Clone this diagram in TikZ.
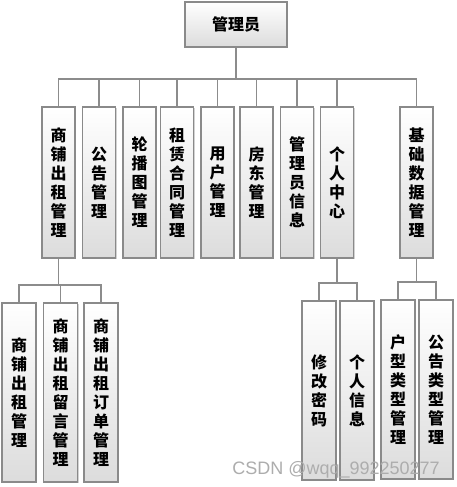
\documentclass[tikz,border=0pt]{standalone}
\usepackage{fontspec}
\newfontfamily\cjk{Noto Sans CJK SC}
\newfontfamily\wm{Liberation Sans}
\usetikzlibrary{shadows}
\definecolor{boxline}{HTML}{8A8A8A}
\definecolor{conncol}{HTML}{8C8C8C}
\definecolor{boxbot}{HTML}{DCDCDC}
\begin{document}
\begin{tikzpicture}[x=1pt,y=-1pt,
  box/.style={draw=boxline, line width=1.2pt, top color=white, bottom color=boxbot,
    drop shadow={shadow xshift=1.2pt, shadow yshift=-1.2pt, fill=black!35},
    inner sep=0pt, align=center, font=\cjk\bfseries\fontsize{16}{19}\selectfont},
  conn/.style={draw=conncol, line width=1.4pt}]
\useasboundingbox[fill=white] (0,0) rectangle (457,487);
% top
\node[box, minimum width=102pt, minimum height=45pt] (top) at (236,24.5) {管理员};
% level 2
\tikzset{l2/.style={box, minimum width=33pt, minimum height=151pt}}
\node[l2] (b1) at (58.5,182.5) {商\\铺\\出\\租\\管\\理};
\node[l2] (b2) at (99,182.5) {公\\告\\管\\理};
\node[l2] (b3) at (139.5,182.5) {轮\\播\\图\\管\\理};
\node[l2] (b4) at (177,182.5) {租\\赁\\合\\同\\管\\理};
\node[l2] (b5) at (217.5,182.5) {用\\户\\管\\理};
\node[l2] (b6) at (256.5,182.5) {房\\东\\管\\理};
\node[l2] (b7) at (297,182.5) {管\\理\\员\\信\\息};
\node[l2] (b8) at (337,182.5) {个\\人\\中\\心};
\node[l2] (b9) at (416.5,182.5) {基\\础\\数\\据\\管\\理};
% level 3
\tikzset{l3/.style={box, minimum width=34pt, minimum height=179pt}}
\node[l3] (c1) at (19,392.5) {商\\铺\\出\\租\\管\\理};
\node[l3] (c2) at (60.5,392.5) {商\\铺\\出\\租\\留\\言\\管\\理};
\node[l3] (c3) at (101,392.5) {商\\铺\\出\\租\\订\\单\\管\\理};
\node[l3] (d1) at (319,390.5) {修\\改\\密\\码};
\node[l3] (d2) at (357,390.5) {个\\人\\信\\息};
\node[l3] (e1) at (398,389.5) {户\\型\\类\\型\\管\\理};
\node[l3] (e2) at (436,389.5) {公\\告\\类\\型\\管\\理};
% connectors
\coordinate (j0) at (236,79);
\draw[conn] (top.south) -- (j0);
\draw[conn] (b1.north) -- (b1.north |- j0) -- (b9.north |- j0) -- (b9.north);
\foreach \n in {b2,b3,b4,b5,b6,b7,b8} \draw[conn] (\n.north) -- (\n.north |- j0);
\coordinate (j1) at (60,285);
\draw[conn] (b1.south) -- (b1.south |- j1);
\draw[conn] (c1.north) -- (c1.north |- j1) -- (c3.north |- j1) -- (c3.north);
\draw[conn] (c2.north) -- (c2.north |- j1);
\coordinate (j2) at (337,283);
\draw[conn] (b8.south) -- (b8.south |- j2);
\draw[conn] (d1.north) -- (d1.north |- j2) -- (d2.north |- j2) -- (d2.north);
\coordinate (j3) at (416.5,282);
\draw[conn] (b9.south) -- (b9.south |- j3);
\draw[conn] (e1.north) -- (e1.north |- j3) -- (e2.north |- j3) -- (e2.north);
% watermark
\node[font=\wm\fontsize{18}{20}\selectfont, text=black!32, inner sep=0pt] (wmk) at (336,469.5) {CSDN @wqq\_992250277};
\end{tikzpicture}
\end{document}
